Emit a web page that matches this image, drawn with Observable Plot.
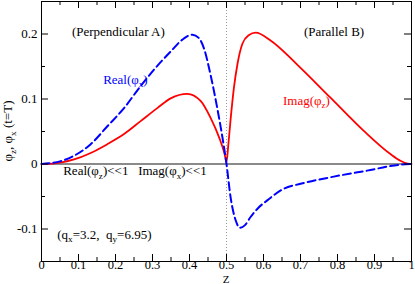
<!DOCTYPE html>
<html><head><meta charset="utf-8">
<script src="https://cdn.jsdelivr.net/npm/d3@7"></script>
<script src="https://cdn.jsdelivr.net/npm/@observablehq/plot@0.6"></script>
<style>body{margin:0;background:#fff} svg{display:block}</style>
</head><body><div id="chart"></div>
<script>
// Real(phi_x) : blue dashed
const zReal    = [0, 0.02, 0.05, 0.088, 0.133, 0.178, 0.223, 0.268, 0.295, 0.313, 0.349, 0.38, 0.408, 0.425, 0.439, 0.457, 0.475, 0.489, 0.5, 0.511, 0.525, 0.536, 0.55, 0.565, 0.585, 0.61, 0.655, 0.7, 0.79, 0.88, 0.97, 1.0];
const realPhiX = [0, 0.001, 0.004, 0.0127, 0.0305, 0.058, 0.086, 0.12, 0.139, 0.151, 0.173, 0.191, 0.199, 0.194, 0.178, 0.137, 0.086, 0.041, 0, -0.051, -0.087, -0.098, -0.094, -0.0815, -0.068, -0.056, -0.038, -0.0305, -0.0194, -0.0102, -0.001, 0];
// Imag(phi_z) : red solid
const zImag    = [0, 0.03, 0.05, 0.088, 0.133, 0.178, 0.223, 0.268, 0.313, 0.349, 0.394, 0.43, 0.457, 0.48, 0.495, 0.5, 0.505, 0.511, 0.52, 0.53, 0.543, 0.56, 0.579, 0.619, 0.691, 0.781, 0.871, 0.943, 0.97, 0.99, 1.0];
const imagPhiZ = [0, 0.0006, 0.002, 0.007, 0.017, 0.0305, 0.046, 0.066, 0.086, 0.101, 0.108, 0.097, 0.071, 0.041, 0.015, 0.003, 0.03, 0.068, 0.117, 0.155, 0.185, 0.198, 0.202, 0.19, 0.153, 0.102, 0.051, 0.0153, 0.005, 0.0005, 0];
// ticks
const xMajor = [0, 0.1, 0.2, 0.3, 0.4, 0.5, 0.6, 0.7, 0.8, 0.9, 1];
const xMinor = [0.05, 0.15, 0.25, 0.35, 0.45, 0.55, 0.65, 0.75, 0.85, 0.95];
const yMajor = [-0.1, 0, 0.1, 0.2];
const yMinor = [-0.05, 0.05, 0.15];

const blueData = zReal.map((z, i) => ({z, v: realPhiX[i]}));
const redData = zImag.map((z, i) => ({z, v: imagPhiZ[i]}));

const W = 415, H = 284, mL = 41, mR = 4, mT = 1, mB = 23;
const fw = W - mL - mR, fh = H - mT - mB;
const major = 7, minor = 4;

const chart = Plot.plot({
  width: W, height: H,
  marginLeft: mL, marginRight: mR, marginTop: mT, marginBottom: mB,
  style: {fontFamily: "'Liberation Serif', serif", fontSize: "13px", background: "#fff", color: "black"},
  x: {domain: [0, 1], label: null, axis: null},
  y: {domain: [-0.15, 0.25], label: null, axis: null},
  marks: [
    Plot.ruleX([0.5], {stroke: "#999", strokeDasharray: "1,2", strokeWidth: 1}),
    Plot.ruleY([0], {stroke: "#8a8a8a", strokeWidth: 2}),
    Plot.line(redData, {x: "z", y: "v", stroke: "red", strokeWidth: 1.8, curve: "monotone-x"}),
    Plot.line(blueData, {x: "z", y: "v", stroke: "blue", strokeWidth: 2, strokeDasharray: "8,4", curve: "monotone-x"}),
    // inward ticks
    Plot.tickX(xMajor, {x: d => d, insetTop: fh - major, stroke: "black"}),
    Plot.tickX(xMajor, {x: d => d, insetBottom: fh - major, stroke: "black"}),
    Plot.tickX(xMinor, {x: d => d, insetTop: fh - minor, stroke: "black"}),
    Plot.tickX(xMinor, {x: d => d, insetBottom: fh - minor, stroke: "black"}),
    Plot.tickY(yMajor, {y: d => d, insetRight: fw - major, stroke: "black"}),
    Plot.tickY(yMajor, {y: d => d, insetLeft: fw - major, stroke: "black"}),
    Plot.tickY(yMinor, {y: d => d, insetRight: fw - minor, stroke: "black"}),
    Plot.tickY(yMinor, {y: d => d, insetLeft: fw - minor, stroke: "black"}),
    Plot.text(xMajor, {x: d => d, frameAnchor: "bottom", dy: 7.5, text: d => String(d), fill: "black", fontSize: 12.5}),
    Plot.text(yMajor, {y: d => d, frameAnchor: "left", dx: -4, textAnchor: "end", text: d => String(d), fill: "black", fontSize: 13}),
    Plot.frame({stroke: "black", strokeWidth: 1})
  ]
});
document.getElementById("chart").appendChild(chart);

const sx = chart.scale("x"), sy = chart.scale("y");
const svg = d3.select(chart);
function addText(x, y, parts, {anchor = "start", color = "black", rotate = 0, size = 13} = {}) {
  const t = svg.append("text")
    .attr("text-anchor", anchor)
    .attr("fill", color)
    .attr("font-family", "'Liberation Serif', serif")
    .attr("font-size", size)
    .style("white-space", "pre");
  if (rotate) t.attr("transform", `translate(${x},${y}) rotate(${rotate})`);
  else t.attr("x", x).attr("y", y);
  let shifted = false;
  for (const p of parts) {
    const isSub = typeof p === "object";
    const s = t.append("tspan").text(isSub ? p.sub : p);
    if (isSub) { s.attr("font-size", size * 0.7).attr("dy", 3.5); shifted = true; }
    else if (shifted) { s.attr("dy", -3.5); shifted = false; }
  }
}
addText(sx.apply(0.209), sy.apply(0.196), ["(Perpendicular A)"], {anchor: "middle"});
addText(sx.apply(0.792), sy.apply(0.196), ["(Parallel B)"], {anchor: "middle"});
addText(sx.apply(0.168), sy.apply(0.1226), ["Real(φ", {sub: "x"}, ")"], {color: "blue"});
addText(sx.apply(0.654), sy.apply(0.0905), ["Imag(φ", {sub: "z"}, ")"], {color: "red"});
addText(sx.apply(0.060), sy.apply(-0.0183), ["Real(φ", {sub: "z"}, ")<<1   Imag(φ", {sub: "x"}, ")<<1"]);
addText(sx.apply(0.044), sy.apply(-0.116), ["(q", {sub: "x"}, "=3.2,  q", {sub: "y"}, "=6.95)"]);
addText(sx.apply(0.5), 283.2, ["Z"], {anchor: "middle", size: 11});
addText(12, 131, ["φ", {sub: "z"}, ", φ", {sub: "x"}, " (t=T)"], {anchor: "middle", rotate: -90});
</script>
</body></html>
